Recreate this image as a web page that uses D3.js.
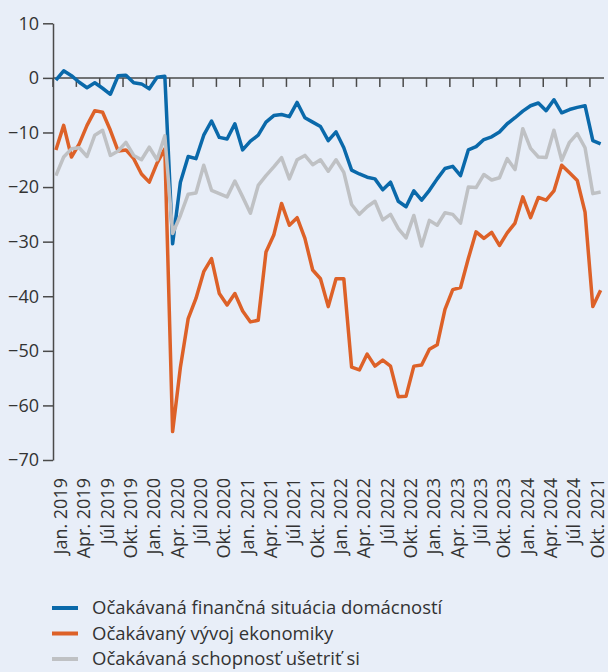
<!DOCTYPE html>
<html>
<head>
<meta charset="utf-8">
<script src="https://cdn.jsdelivr.net/npm/d3@7"></script>
<style>
  body { margin: 0; background: #e8eef8; }
  svg { display: block; font-family: "Open Sans", sans-serif; }
</style>
</head>
<body>
<div id="chart"></div>
<script>
var months = d3.range(71); // Jan 2019 .. Nov 2024, monthly

var tickLabels = ["Jan. 2019","Apr. 2019","Júl 2019","Okt. 2019","Jan. 2020","Apr. 2020","Júl 2020","Okt. 2020",
  "Jan. 2021","Apr. 2021","Júl 2021","Okt. 2021","Jan. 2022","Apr. 2022","Júl 2022","Okt. 2022",
  "Jan. 2023","Apr. 2023","Júl 2023","Okt. 2023","Jan. 2024","Apr. 2024","Júl 2024","Okt. 2021"];

var yTicks = [10, 0, -10, -20, -30, -40, -50, -60, -70];

var financna = [-0.4,1.3,0.4,-0.8,-1.8,-0.9,-1.9,-3.0,0.4,0.5,-0.9,-1.1,-2.0,0.1,0.3,
  -30.4,-19.1,-14.4,-14.8,-10.5,-7.9,-10.9,-11.2,-8.4,-13.2,-11.6,-10.5,-8.1,-6.9,-6.7,
  -7.1,-4.5,-7.3,-8.1,-8.9,-11.5,-9.9,-12.8,-16.9,-17.6,-18.2,-18.5,-20.5,-19.1,-22.6,
  -23.6,-20.7,-22.4,-20.6,-18.5,-16.6,-16.2,-17.9,-13.2,-12.6,-11.3,-10.8,-9.9,-8.4,-7.3,
  -6.1,-5.1,-4.6,-6.0,-4.0,-6.4,-5.8,-5.4,-5.1,-11.5,-12.1];

var ekonomika = [-13.2,-8.7,-14.5,-12.1,-8.7,-6.0,-6.3,-9.6,-13.4,-13.2,-14.8,-17.6,-19.1,-15.6,-13.0,
  -64.8,-53.0,-44.1,-40.4,-35.5,-33.1,-39.5,-41.6,-39.5,-42.7,-44.7,-44.4,-31.9,-28.8,-23.0,
  -27.0,-25.6,-29.4,-35.2,-36.8,-41.9,-36.8,-36.8,-53.0,-53.5,-50.6,-52.8,-51.7,-52.8,-58.4,
  -58.3,-52.8,-52.6,-49.7,-48.9,-42.4,-38.8,-38.4,-33.1,-28.2,-29.4,-28.3,-30.7,-28.4,-26.6,
  -21.8,-25.6,-21.9,-22.4,-20.7,-16.0,-17.4,-18.8,-24.6,-41.9,-38.9];

var usetrit = [-17.9,-14.5,-13.0,-12.8,-14.4,-10.5,-9.6,-14.2,-13.4,-11.8,-14.2,-15.0,-12.7,-15.0,-10.6,
  -28.5,-25.2,-21.3,-21.1,-16.0,-20.6,-21.2,-21.8,-18.9,-21.8,-24.8,-19.7,-17.9,-16.3,-14.6,
  -18.5,-15.0,-14.2,-15.9,-15.0,-17.1,-15.0,-17.3,-23.2,-25.0,-23.6,-22.6,-26.0,-25.0,-27.6,
  -29.3,-25.2,-30.8,-26.1,-27.0,-24.7,-25.0,-26.6,-20.0,-20.1,-17.7,-18.7,-18.3,-14.8,-16.8,
  -9.3,-12.9,-14.5,-14.6,-9.6,-15.1,-11.8,-10.2,-12.8,-21.2,-20.9];

var seriesNames = ["Očakávaná finančná situácia domácností","Očakávaný vývoj ekonomiky","Očakávaná schopnosť ušetriť si"];
var seriesColors = ["#0a69aa","#dd6128","#bfc1c4"];
var seriesData = [financna, ekonomika, usetrit];

var width = 608, height = 672;

var svg = d3.select("#chart").append("svg")
  .attr("width", width)
  .attr("height", height);

svg.append("rect")
  .attr("width", width)
  .attr("height", height)
  .attr("fill", "#e8eef8");

var x = d3.scaleBand()
  .domain(months)
  .range([52, 604.5]);

var y = d3.scaleLinear()
  .domain([-70, 10])
  .range([460, 23.3]);

// y axis
var yAxis = svg.append("g")
  .attr("transform", "translate(53,0)")
  .call(d3.axisLeft(y).tickValues(yTicks).tickSize(10).tickSizeOuter(0).tickPadding(4).tickFormat(d3.format("d")));

yAxis.select(".domain").attr("stroke", "#4a4a4a").attr("stroke-width", 1.5);
yAxis.selectAll(".tick line").attr("stroke", "#4a4a4a").attr("stroke-width", 1.5);
yAxis.selectAll(".tick text")
  .attr("fill", "#333")
  .style("font-size", "18px")
  .style("font-family", "'Open Sans', sans-serif");

// x axis along zero
var quarterIdx = months.filter(function(d) { return d % 3 == 0; });

svg.append("line")
  .attr("x1", 53).attr("x2", 604)
  .attr("y1", y(0)).attr("y2", y(0))
  .attr("stroke", "#4a4a4a")
  .attr("stroke-width", 1.5);

svg.selectAll(".xtick")
  .data(quarterIdx)
  .enter().append("line")
  .attr("class", "xtick")
  .attr("x1", function(d) { return x(d) + 1; })
  .attr("x2", function(d) { return x(d) + 1; })
  .attr("y1", y(0))
  .attr("y2", y(0) + 9)
  .attr("stroke", "#4a4a4a")
  .attr("stroke-width", 1.5);

svg.selectAll(".xlabel")
  .data(quarterIdx)
  .enter().append("text")
  .attr("class", "xlabel")
  .attr("transform", function(d) { return "translate(" + (x(d) + 8.5) + ",478) rotate(-90)"; })
  .attr("text-anchor", "end")
  .attr("dy", "0.35em")
  .attr("fill", "#333")
  .style("font-size", "18px")
  .text(function(d, i) { return tickLabels[i]; });

// lines
var line = d3.line()
  .x(function(d, i) { return x(i) + x.bandwidth() / 2; })
  .y(function(d) { return y(d); });

svg.selectAll(".series")
  .data(seriesData)
  .enter().append("path")
  .attr("class", "series")
  .attr("d", line)
  .attr("fill", "none")
  .attr("stroke", function(d, i) { return seriesColors[i]; })
  .attr("stroke-width", 3.5)
  .attr("stroke-linejoin", "round");

// legend
var legend = svg.selectAll(".legend")
  .data(seriesNames)
  .enter().append("g")
  .attr("class", "legend")
  .attr("transform", function(d, i) { return "translate(52," + (608 + i * 25.5) + ")"; });

legend.append("line")
  .attr("x1", 0).attr("x2", 26)
  .attr("stroke", function(d, i) { return seriesColors[i]; })
  .attr("stroke-width", 4);

legend.append("text")
  .attr("x", 40)
  .attr("dy", "0.35em")
  .attr("fill", "#333")
  .style("font-size", "18.5px")
  .text(function(d) { return d; });
</script>
</body>
</html>
